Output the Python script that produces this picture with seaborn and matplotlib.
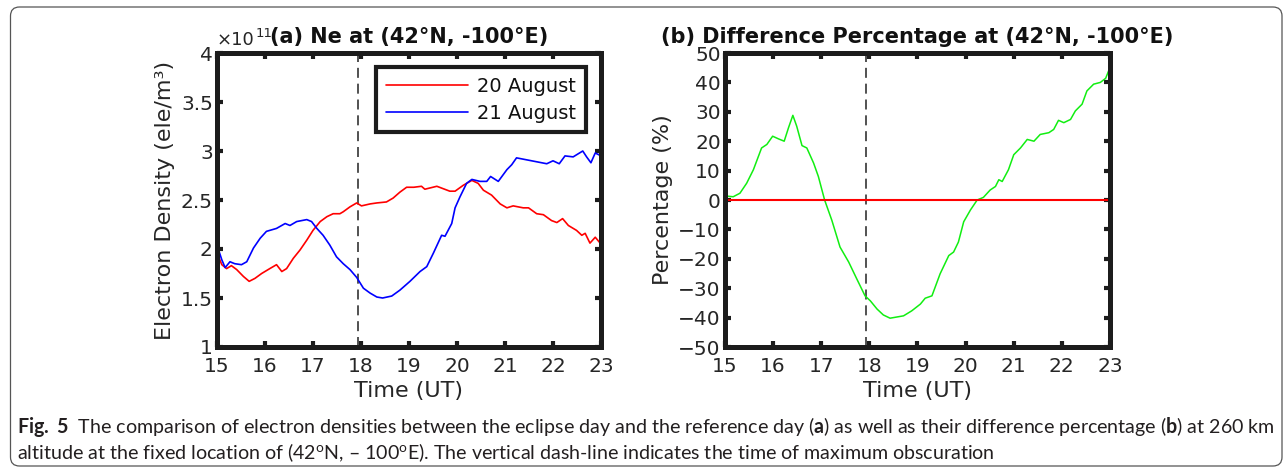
import numpy as np
import pandas as pd
import matplotlib
matplotlib.use("Agg")
import matplotlib.pyplot as plt
import seaborn as sns
from matplotlib.patches import FancyBboxPatch
from matplotlib.transforms import IdentityTransform, offset_copy
from matplotlib.ticker import FuncFormatter

# ---------------- data ----------------
hours_20 = [15.0, 15.05, 15.1, 15.2, 15.3, 15.41, 15.55, 15.67, 15.79, 15.93,
            16.1, 16.24, 16.35, 16.45, 16.59, 16.73, 16.87, 17.0, 17.15, 17.29,
            17.42, 17.56, 17.63, 17.77, 17.91, 18.01, 18.19, 18.33, 18.53, 18.67,
            18.81, 18.95, 19.1, 19.26, 19.33, 19.58, 19.85, 19.96, 20.13, 20.31,
            20.44, 20.55, 20.72, 20.9, 21.04, 21.17, 21.38, 21.49, 21.66, 21.8,
            21.97, 22.08, 22.2, 22.32, 22.49, 22.6, 22.67, 22.77, 22.88, 23.0]
ne_20 = [2.02, 1.90, 1.84, 1.80, 1.83, 1.79, 1.72, 1.67, 1.70, 1.75,
         1.80, 1.84, 1.77, 1.80, 1.905, 1.99, 2.09, 2.19, 2.28, 2.33,
         2.36, 2.36, 2.38, 2.43, 2.47, 2.44, 2.46, 2.47, 2.48, 2.52,
         2.58, 2.63, 2.63, 2.64, 2.61, 2.64, 2.59, 2.59, 2.65, 2.70,
         2.67, 2.60, 2.55, 2.46, 2.42, 2.44, 2.42, 2.42, 2.36, 2.35,
         2.29, 2.27, 2.31, 2.24, 2.19, 2.14, 2.16, 2.06, 2.12, 2.05]

hours_21 = [15.0, 15.1, 15.17, 15.27, 15.37, 15.51, 15.62, 15.76, 15.9, 16.03,
            16.24, 16.42, 16.52, 16.66, 16.87, 16.97, 17.08, 17.21, 17.35, 17.49,
            17.63, 17.77, 17.91, 18.05, 18.19, 18.33, 18.45, 18.64, 18.81, 19.02,
            19.23, 19.37, 19.51, 19.68, 19.75, 19.89, 19.96, 20.06, 20.2, 20.31,
            20.48, 20.62, 20.7, 20.86, 21.04, 21.14, 21.24, 21.45, 21.66, 21.87,
            22.0, 22.13, 22.25, 22.42, 22.62, 22.7, 22.79, 22.88, 23.0]
ne_21 = [2.04, 1.89, 1.81, 1.87, 1.85, 1.84, 1.87, 2.01, 2.11, 2.18,
         2.21, 2.26, 2.24, 2.28, 2.30, 2.28, 2.21, 2.14, 2.04, 1.92,
         1.85, 1.79, 1.71, 1.60, 1.55, 1.51, 1.50, 1.52, 1.58, 1.67,
         1.77, 1.82, 1.96, 2.14, 2.13, 2.26, 2.42, 2.53, 2.67, 2.71,
         2.69, 2.69, 2.74, 2.69, 2.81, 2.86, 2.93, 2.91, 2.89, 2.87,
         2.90, 2.87, 2.95, 2.94, 3.00, 2.94, 2.88, 2.98, 2.95]

hours_pct = [15.0, 15.17, 15.31, 15.45, 15.59, 15.76, 15.87, 15.99, 16.11, 16.23,
             16.32, 16.41, 16.49, 16.6, 16.7, 16.84, 16.94, 17.07, 17.22, 17.39,
             17.57, 17.74, 17.91, 18.02, 18.16, 18.29, 18.43, 18.57, 18.71, 18.88,
             19.06, 19.16, 19.3, 19.47, 19.65, 19.75, 19.85, 19.96, 20.1, 20.24,
             20.37, 20.51, 20.62, 20.69, 20.76, 20.89, 21.0, 21.14, 21.28, 21.42,
             21.55, 21.73, 21.83, 21.93, 22.04, 22.18, 22.28, 22.42, 22.52, 22.66,
             22.8, 22.91, 23.0]
pct = [1.4, 1.1, 2.3, 5.7, 10.3, 17.7, 18.9, 21.7, 20.8, 20.0,
       24.6, 28.8, 25.1, 18.5, 17.7, 12.6, 8.0, 0.0, -6.9, -16.0,
       -21.1, -26.9, -32.6, -34.3, -37.1, -39.1, -40.2, -39.8, -39.4, -37.7,
       -35.4, -33.4, -32.6, -25.1, -18.9, -17.7, -14.3, -7.4, -3.4, 0.0,
       0.9, 3.4, 4.6, 6.9, 6.3, 10.3, 15.4, 17.7, 20.6, 20.0,
       22.3, 22.9, 24.0, 27.1, 26.3, 27.4, 30.3, 32.6, 37.1, 39.4,
       40.0, 41.4, 45.1]

series_labels = ["20 August", "21 August"]
max_obscuration = 17.93
xticks = list(range(15, 24))
yticks_ne = [1, 1.5, 2, 2.5, 3, 3.5, 4]
yticks_pct = list(range(-50, 51, 10))

# ---------------- style ----------------
sns.set_theme(style="white")
plt.rcParams["font.family"] = ["DejaVu Sans"]
plt.rcParams["mathtext.fontset"] = "custom"
plt.rcParams["mathtext.rm"] = "Lato"
plt.rcParams["mathtext.bf"] = "Lato:bold"
plt.rcParams["mathtext.it"] = "Lato:italic"

W, H = 1287, 473
fig = plt.figure(figsize=(W / 100, H / 100), dpi=100)
fig.patch.set_facecolor("white")

def px_axes(l, t, r, b):
    return fig.add_axes([l / W, 1 - b / H, (r - l) / W, (b - t) / H])

axL = px_axes(217, 53, 601, 347)
axR = px_axes(725, 53, 1110, 347)

TXT = "#262626"
SPN = "#1c1c1c"

def style(ax):
    ax.set_facecolor("white")
    ax.set_xlim(xticks[0], xticks[-1])
    ax.set_xticks(xticks)
    for s in ax.spines.values():
        s.set_visible(True)
        s.set_linewidth(3.6)
        s.set_color(SPN)
        s.set_zorder(5)
    ax.tick_params(direction="in", bottom=True, left=True, top=True, right=True,
                   length=4.5, width=3, color=SPN, labelcolor=TXT, labelsize=14.5)
    ax.tick_params(axis="x", pad=7.5)
    ax.tick_params(axis="y", pad=3)
    ax.grid(False)
    ax.set_xlabel("Time (UT)", fontsize=16, color=TXT, labelpad=3)

# ---------------- panel (a) ----------------
df20 = pd.DataFrame({"Time": hours_20, "Ne": ne_20})
df21 = pd.DataFrame({"Time": hours_21, "Ne": ne_21})
sns.lineplot(data=df20, x="Time", y="Ne", ax=axL, color="#ff0000", lw=1.2,
             label=series_labels[0], sort=False, estimator=None)
sns.lineplot(data=df21, x="Time", y="Ne", ax=axL, color="#0000ff", lw=1.2,
             label=series_labels[1], sort=False, estimator=None)
axL.axvline(max_obscuration, color="#333333", ls=(0, (6, 3.5)), lw=1.2, zorder=1)
style(axL)
axL.set_ylim(yticks_ne[0], yticks_ne[-1])
axL.set_yticks(yticks_ne)
axL.yaxis.set_major_formatter(FuncFormatter(lambda v, p: f"{v:g}"))
axL.set_ylabel("Electron Density (ele/m³)", fontsize=16, color=TXT, labelpad=4)
axL.set_title("(a) Ne at (42°N, -100°E)", fontsize=15, fontweight="bold",
              color="#111111", pad=7)
leg = axL.legend(loc="upper right", bbox_to_anchor=(0.961, 0.952), borderaxespad=0,
                 fontsize=14, handlelength=4.2, frameon=True, fancybox=False,
                 edgecolor=SPN, framealpha=1, borderpad=0.5, labelspacing=0.4,
                 handletextpad=0.5)
leg.get_frame().set_linewidth(3)
for t in leg.get_texts():
    t.set_color("#111111")

# exponent label (x10^11) at the top-left of panel (a)
r = fig.canvas.get_renderer()
tx = axL.text(0.0, 1.0 + 8 / 294, "×10", transform=axL.transAxes, fontsize=13,
              va="baseline", ha="left", color=TXT)
wx = tx.get_window_extent(r).width
axL.text(0.0, 1.0 + 8 / 294, "11",
         transform=offset_copy(axL.transAxes, fig=fig, x=wx + 0.5, y=8, units="dots"),
         fontsize=9.5, va="baseline", ha="left", color=TXT)

# ---------------- panel (b) ----------------
dfp = pd.DataFrame({"Time": hours_pct, "Pct": pct})
sns.lineplot(data=dfp, x="Time", y="Pct", ax=axR, color="#11ee11", lw=1.1,
             sort=False, estimator=None, legend=False)
axR.axhline(0, color="#ff0000", lw=1.5, zorder=3)
axR.axvline(max_obscuration, color="#333333", ls=(0, (6, 3.5)), lw=1.2, zorder=1)
style(axR)
axR.set_ylim(yticks_pct[0], yticks_pct[-1])
axR.set_yticks(yticks_pct)
axR.yaxis.set_major_formatter(FuncFormatter(lambda v, p: f"{v:g}".replace("-", "\u2212")))
axR.set_ylabel("Percentage (%)", fontsize=16, color=TXT, labelpad=4)
axR.set_title("(b) Difference Percentage at (42°N, -100°E)", fontsize=15,
              fontweight="bold", color="#111111", pad=7)

# ---------------- border and caption ----------------
border = FancyBboxPatch((10.5, H - 466), 1271.5, 459,
                        boxstyle="round,pad=0,rounding_size=9",
                        transform=IdentityTransform(), facecolor="none",
                        edgecolor="#555555", lw=0.9, zorder=0)
fig.patches.append(border)

cap1 = (r"$\mathbf{Fig.\ 5}$  The comparison of electron densities between the eclipse day "
        r"and the reference day ($\mathbf{a}$) as well as their difference percentage "
        r"($\mathbf{b}$) at 260 km")
cap2 = (r"altitude at the fixed location of (42$^{\mathrm{o}}$N, – 100$^{\mathrm{o}}$E). "
        r"The vertical dash-line indicates the time of maximum obscuration")
t1 = fig.text(17 / W, 1 - 433 / H, cap1, fontsize=11, family="Lato", color="#231f20",
              va="baseline", ha="left")
t2 = fig.text(17 / W, 1 - 459 / H, cap2, fontsize=11, family="Lato", color="#231f20",
              va="baseline", ha="left")
w1 = t1.get_window_extent(r).width
scale = 1255 / w1
t1.set_fontsize(11 * scale)
t2.set_fontsize(11 * scale)

fig.savefig("out.png", dpi=100, facecolor="white")
